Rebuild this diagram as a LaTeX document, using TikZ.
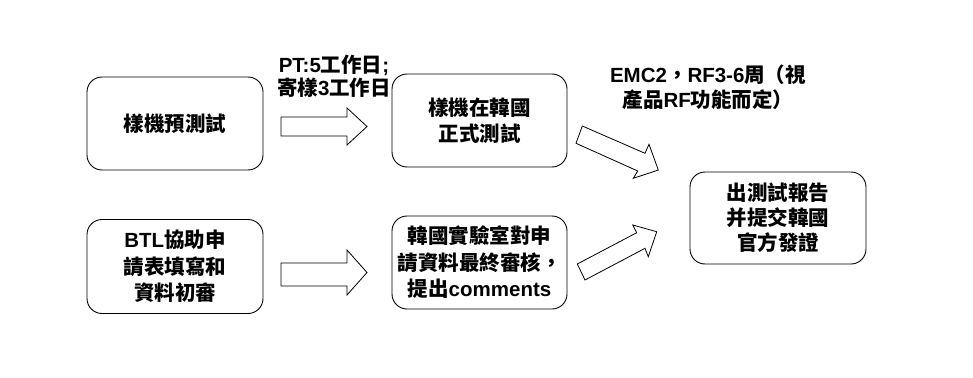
\documentclass[tikz,border=0pt]{standalone}
\usepackage{fontspec}
\setmainfont{Liberation Sans}
\newfontfamily\cjkfont{Noto Sans CJK TC}
\newcommand\lt[1]{{\rmfamily #1}}
\begin{document}
\begin{tikzpicture}[x=1pt,y=-1pt,
  box/.style={draw, line width=0.9pt, rounded corners=15pt, align=center,
    inner sep=0pt, font=\cjkfont\bfseries\fontsize{20.5}{26.5}\selectfont},
  lbl/.style={align=center, inner sep=0pt, font=\cjkfont\bfseries\fontsize{20.5}{23}\selectfont},
  blockarr/.style={draw, line width=0.8pt, fill=white, line join=miter}]
\useasboundingbox (0,0) rectangle (973,377);
\node[box, minimum width=176pt, minimum height=93pt] (b1) at (175,123.5) {樣機預測試};
\node[box, minimum width=175pt, minimum height=93pt] (b2) at (479.5,120.5) {樣機在韓國\\正式測試};
\node[box, minimum width=176pt, minimum height=94pt] (b3) at (175,266.5) {\lt{BTL}協助申\\請表填寫和\\資料初審};
\node[box, minimum width=175pt, minimum height=93pt] (b4) at (479.5,262.5) {韓國實驗室對申\\請資料最終審核，\\提出\lt{comments}};
\node[box, minimum width=176pt, minimum height=92pt, font=\cjkfont\bfseries\fontsize{20.5}{25}\selectfont] (b5) at (778,218) {出測試報告\\并提交韓國\\官方發證};
\node[lbl] (l1) at (334,76.5) {\lt{PT:5}工作日\lt{;}\\寄樣\lt{3}工作日};
\node[lbl, font=\cjkfont\bfseries\fontsize{20.5}{25}\selectfont] (l2) at (708,87.5) {\lt{EMC2}，\lt{RF3-6}周（視\\產品\lt{RF}功能而定）};
% block arrows
\draw[blockarr] (281,117) -- (347,117) -- (347,108) -- (367,126.5) -- (347,145) -- (347,136) -- (281,136) -- cycle;
\draw[blockarr] (281,263) -- (347,263) -- (347,250) -- (367,272.5) -- (347,295) -- (347,286) -- (281,286) -- cycle;
\draw[blockarr] (582.3,126) -- (645,153.3) -- (649,144.3) -- (658.3,170) -- (633.3,178.3) -- (637.7,171) -- (576,143.3) -- cycle;
\draw[blockarr] (577.3,264) -- (636.7,232.7) -- (632.7,225) -- (656.7,231.7) -- (648.3,256.7) -- (645,248.3) -- (585,280) -- cycle;
\end{tikzpicture}
\end{document}
